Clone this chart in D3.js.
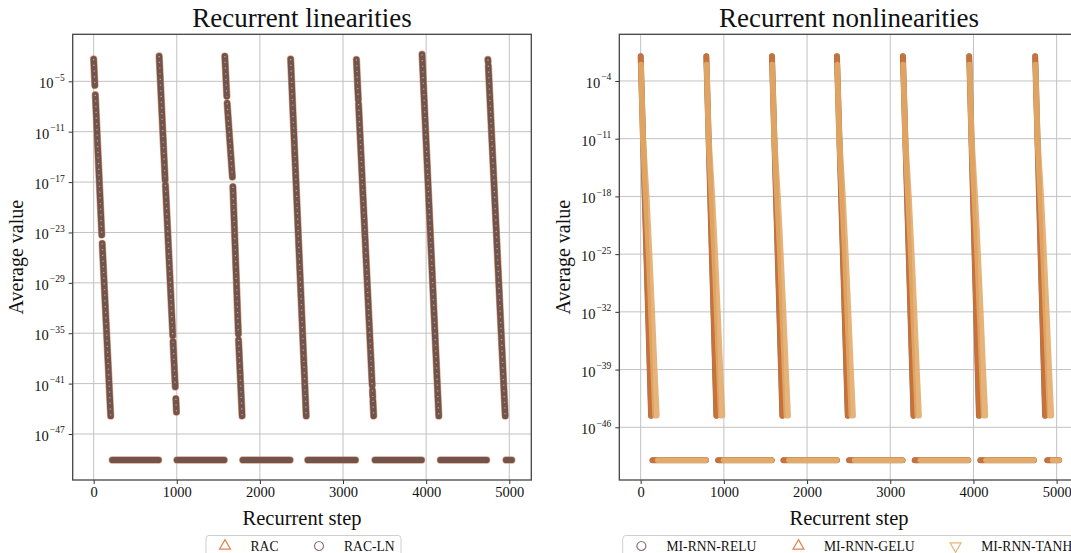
<!DOCTYPE html>
<html>
<head>
<meta charset="utf-8">
<script src="https://cdn.jsdelivr.net/npm/d3@7"></script>
<style>
  body { margin: 0; background: #fff; }
  svg { display: block; }
  text { font-family: "Liberation Serif", "Times New Roman", serif; fill: #111; }
</style>
</head>
<body>
<svg id="fig" width="1071" height="553"></svg>
<script>
"use strict"

const stepTicks = [0, 1000, 2000, 3000, 4000, 5000];
const linearExpTicks = [-5, -11, -17, -23, -29, -35, -41, -47];
const nonlinearExpTicks = [-4, -11, -18, -25, -32, -39, -46];

// everything below is log10(value) against recurrent step
// RAC-LN runs, split where the trace has holes: [step, log10 value]
const racLnPieces = [
    [[0, -2.35], [15, -5.5]],
    [[20, -6.6], [98, -23.3]],
    [[103, -24.3], [205, -44.86]],
    [[788, -1.99], [860, -16.75]],
    [[864, -17.35], [952, -35.3]],
    [[955, -36.0], [982, -41.4]],
    [[989, -42.8], [996, -44.4]],
    [[1578, -2.0], [1602, -6.8]],
    [[1606, -7.6], [1669, -16.4]],
    [[1675, -17.55], [1741, -35.1]],
    [[1743, -35.8], [1786, -44.86]],
    [[2370, -2.35], [2557, -44.86]],
    [[3161, -2.4], [3184, -7.2]],
    [[3187, -7.7], [3351, -41.2]],
    [[3354, -41.8], [3358, -42.6]],
    [[3360, -43.05], [3369, -44.86]],
    [[3951, -1.78], [4152, -44.86]],
    [[4743, -2.4], [4745, -2.65]],
    [[4748, -3.15], [4951, -44.86]]
];
// underflowed stretches (RAC and RAC-LN both sit on the floor)
const racLnFloor = [[224, 781], [1002, 1571], [1794, 2363], [2576, 3150], [3384, 3945], [4171, 4727], [4961, 5030]];
const linearFloorExp = -50.1;

// MI-RNN: one decay per cycle
const cycleStart = [0, 789, 1578, 2359, 3152, 3949, 4742];
const geluEnd = [125, 910, 1703, 2489, 3279, 4066, 4861];
const geluTopExp = -1.0;
const geluBottomExp = -44.6;
// tanh trace widens as it falls: [log10 value, first step, last step] after cycle start
const tanhSpread = [[-2.0, 2, 6], [-11, 24, 32], [-18, 60, 74], [-25, 94, 108], [-32, 122, 140], [-39, 150, 170], [-44.6, 172, 196]];
const geluFloor = [[142, 785], [931, 1575], [1716, 2359], [2505, 3148], [3294, 3938], [4083, 4727], [4887, 5029]];
const tanhFloor = [[205, 785], [995, 1575], [1780, 2359], [2570, 3148], [3360, 3938], [4150, 4727], [4950, 5029]];
const nonlinearFloorExp = -50.0;

const colors = {
    rac: "#dd8452",
    racLn: "#6f5550",
    racLnLegend: "#8c7670",
    relu: "#8f7168",
    gelu: "#c8723a",
    geluLegend: "#d98552",
    tanh: "#e3aa68",
    tanhLegend: "#e8b57c"
};

const svg = d3.select("#fig");

function drawFrame(g, x, y, expTicks, title, yLabelX) {
    const [x0, x1] = x.range();
    const [y1, y0] = y.range();

    // grid under everything
    g.append("g").selectAll("line.vg")
        .data(stepTicks).join("line")
        .attr("x1", d => x(d)).attr("x2", d => x(d))
        .attr("y1", y0).attr("y2", y1)
        .attr("stroke", "#c2c2c2").attr("stroke-width", 1);
    g.append("g").selectAll("line.hg")
        .data(expTicks).join("line")
        .attr("x1", x0).attr("x2", x1)
        .attr("y1", d => y(10 ** d)).attr("y2", d => y(10 ** d))
        .attr("stroke", "#c2c2c2").attr("stroke-width", 1);

    const xAxis = g.append("g")
        .attr("transform", `translate(0,${y1})`)
        .call(d3.axisBottom(x).tickValues(stepTicks).tickSize(4).tickPadding(3).tickFormat(d3.format("d")));
    xAxis.select(".domain").remove();
    xAxis.selectAll("text").attr("font-size", 14.5).attr("fill", "#111")
        .style("font-family", "'Liberation Serif', serif");
    xAxis.selectAll("line").attr("stroke", "#333");

    const yAxis = g.append("g")
        .attr("transform", `translate(${x0},0)`)
        .call(d3.axisLeft(y).tickValues(expTicks.map(e => 10 ** e)).tickSize(4).tickFormat(""));
    yAxis.select(".domain").remove();
    yAxis.selectAll("line").attr("stroke", "#333");

    // 10^{-n} labels
    const lbl = g.append("g").selectAll("text")
        .data(expTicks).join("text")
        .attr("x", x0 - 8)
        .attr("y", d => y(10 ** d) + 7)
        .attr("text-anchor", "end");
    lbl.append("tspan").attr("font-size", 14.5).text("10");
    lbl.append("tspan").attr("font-size", 9.5).attr("dx", 1).attr("dy", -7.5).text(d => "\u2212" + Math.abs(d));

    g.append("text")
        .attr("x", (x0 + Math.min(x1, 1078.7)) / 2).attr("y", 26.5)
        .attr("text-anchor", "middle").attr("font-size", 27)
        .text(title);
    g.append("text")
        .attr("x", (x0 + x1) / 2).attr("y", 525)
        .attr("text-anchor", "middle").attr("font-size", 20.5)
        .text("Recurrent step");
    g.append("text")
        .attr("transform", `translate(${yLabelX},${(y0 + y1) / 2}) rotate(-90)`)
        .attr("text-anchor", "middle").attr("font-size", 20)
        .text("Average value");
}

function drawSpines(g, x, y) {
    const [x0, x1] = x.range();
    const [y1, y0] = y.range();
    g.append("rect")
        .attr("x", x0).attr("y", y0)
        .attr("width", x1 - x0).attr("height", y1 - y0)
        .attr("fill", "none").attr("stroke", "#444").attr("stroke-width", 1.3);
}

function legendBox(g, x, w, items) {
    g.append("rect")
        .attr("x", x).attr("y", 535.5)
        .attr("width", w).attr("height", 40)
        .attr("rx", 3)
        .attr("fill", "#fff").attr("stroke", "#cfcfcf").attr("stroke-width", 1);
    items.forEach(it => {
        g.append("path")
            .attr("d", d3.symbol().type(it.shape).size(it.size)())
            .attr("transform", `translate(${it.mx},546)${it.flip ? " rotate(180)" : ""}`)
            .attr("fill", "none").attr("stroke", it.color).attr("stroke-width", 1.2);
        g.append("text")
            .attr("x", it.tx).attr("y", 550.5)
            .attr("font-size", 13.6)
            .text(it.label);
    });
}

// ---------- left panel: recurrent linearities ----------
{
    const x = d3.scaleLinear().domain([-252, 5265]).range([72.7, 531.3]);
    const y = d3.scaleLog().domain([10 ** -52.48, 10 ** 0.6]).range([480, 34.3]);
    const g = svg.append("g");
    drawFrame(g, x, y, linearExpTicks, "Recurrent linearities", 23);

    const line = d3.line().x(d => x(d[0])).y(d => y(10 ** d[1]));
    const floorPts = racLnFloor.map(r => [[r[0], linearFloorExp], [r[1], linearFloorExp]]);
    const plot = g.append("g");

    // RAC triangles sit under the RAC-LN circles, only their orange rims show
    plot.selectAll("path.rac")
        .data(racLnPieces.concat(floorPts)).join("path")
        .attr("d", line)
        .attr("fill", "none").attr("stroke", colors.rac)
        .attr("stroke-width", 7.4).attr("stroke-linecap", "round").attr("opacity", 0.75);
    plot.selectAll("path.ln")
        .data(racLnPieces.concat(floorPts)).join("path")
        .attr("d", line)
        .attr("fill", "none").attr("stroke", colors.racLn)
        .attr("stroke-width", 6.2).attr("stroke-linecap", "round");
    plot.selectAll("path.speck")
        .data(racLnPieces).join("path")
        .attr("d", line)
        .attr("fill", "none").attr("stroke", "#e6a27a")
        .attr("stroke-width", 1.3).attr("stroke-dasharray", "1.2 4.5").attr("opacity", 0.9);

    drawSpines(g, x, y);
    legendBox(g, 206, 195, [
        { shape: d3.symbolTriangle, size: 52, color: colors.rac, mx: 225, tx: 250.5, label: "RAC" },
        { shape: d3.symbolCircle, size: 64, color: colors.racLnLegend, mx: 319, tx: 344, label: "RAC-LN" }
    ]);
}

// ---------- right panel: recurrent nonlinearities ----------
{
    const x = d3.scaleLinear().domain([-257, 5265]).range([619.3, 1078.7]);
    const y = d3.scaleLog().domain([10 ** -52.39, 10 ** 1.66]).range([480, 34.3]);
    const g = svg.append("g");
    drawFrame(g, x, y, nonlinearExpTicks, "Recurrent nonlinearities", 569.5);

    const line = d3.line().x(d => x(d[0])).y(d => y(10 ** d[1]));
    const plot = g.append("g");

    const geluRuns = cycleStart.map((s, i) => [[s, geluTopExp], [geluEnd[i], geluBottomExp]]);
    const geluBands = geluFloor.map(r => [[r[0], nonlinearFloorExp], [r[1], nonlinearFloorExp]]);
    const tanhBands = tanhFloor.map(r => [[r[0], nonlinearFloorExp], [r[1], nonlinearFloorExp]]);

    // relu trace lies exactly under gelu
    plot.selectAll("path.relu")
        .data(geluRuns.concat(geluBands)).join("path")
        .attr("d", line)
        .attr("fill", "none").attr("stroke", colors.relu)
        .attr("stroke-width", 6).attr("stroke-linecap", "round");
    plot.selectAll("path.gelu")
        .data(geluRuns.concat(geluBands)).join("path")
        .attr("d", line)
        .attr("fill", "none").attr("stroke", colors.gelu)
        .attr("stroke-width", 5.4).attr("stroke-linecap", "round");

    const tanhArea = d3.area()
        .y(d => y(10 ** d[0]))
        .x0(d => x(d[1]))
        .x1(d => x(d[2]))
        .curve(d3.curveLinear);
    cycleStart.forEach(s => {
        const pts = tanhSpread.map(d => [d[0], s + d[1], s + d[2]]);
        plot.append("path")
            .attr("d", tanhArea(pts))
            .attr("fill", colors.tanh).attr("stroke", colors.tanh)
            .attr("stroke-width", 5.4).attr("stroke-linejoin", "round")
            .attr("opacity", 0.88);
    });
    plot.selectAll("path.tanhband")
        .data(tanhBands).join("path")
        .attr("d", line)
        .attr("fill", "none").attr("stroke", colors.tanh)
        .attr("stroke-width", 5.4).attr("stroke-linecap", "round");

    drawSpines(g, x, y);
    legendBox(g, 622.7, 470, [
        { shape: d3.symbolCircle, size: 64, color: colors.relu, mx: 641.4, tx: 666.5, label: "MI-RNN-RELU" },
        { shape: d3.symbolTriangle, size: 52, color: colors.geluLegend, mx: 798.5, tx: 824, label: "MI-RNN-GELU" },
        { shape: d3.symbolTriangle, size: 52, color: colors.tanhLegend, mx: 955.6, tx: 981.2, label: "MI-RNN-TANH", flip: true }
    ]);
}
</script>
</body>
</html>
